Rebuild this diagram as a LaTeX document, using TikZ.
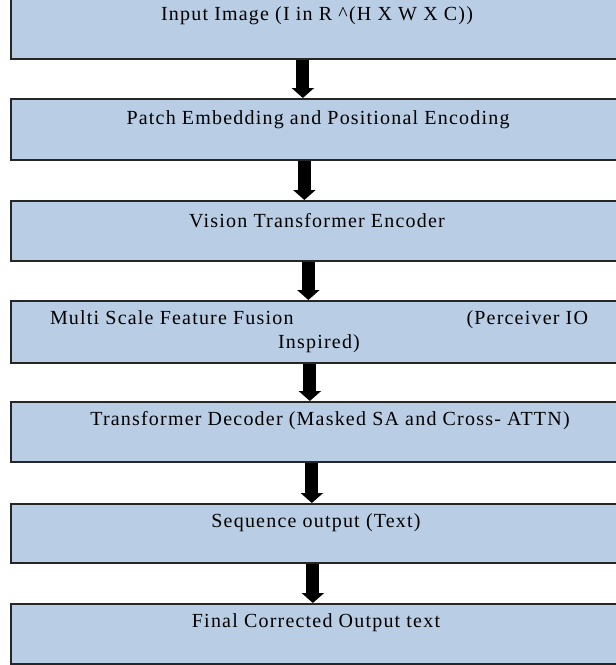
\documentclass[tikz,border=0pt]{standalone}
\usepackage{fontspec}
\setmainfont{Liberation Serif}[LetterSpace=6]
\usetikzlibrary{arrows.meta}
\definecolor{boxfill}{HTML}{B9CDE5}
\definecolor{boxline}{HTML}{262626}
\begin{document}
\begin{tikzpicture}[x=1pt,y=-1pt,
  box/.style={draw=boxline, line width=1.7pt, fill=boxfill, minimum width=615pt,
    minimum height=60pt, inner sep=0pt, anchor=north west},
  lbl/.style={font=\fontsize{20}{24}\selectfont, inner sep=0pt, align=center},
  flow/.style={line width=13pt, -{Triangle[width=22pt,length=10pt]}}]
\useasboundingbox (0,0) rectangle (616,665);
\clip (0,0) rectangle (616,665);
% boxes
\node[box] (b1) at (10,-2) {};
\node[box, minimum height=61pt] (b2) at (10,98) {};
\node[box] (b3) at (10,200) {};
\node[box, minimum height=62pt] (b4) at (10,300) {};
\node[box] (b5) at (10,401) {};
\node[box, minimum height=59pt] (b6) at (10,503) {};
\node[box] (b7) at (10,603) {};
% texts
\node[lbl] (t1) at (317,16) {Input Image (I in R \textasciicircum(H X W X C))};
\node[lbl] (t2) at (318,120) {Patch Embedding and Positional Encoding};
\node[lbl] (t3) at (317,221) {Vision Transformer Encoder};
\node[lbl] (t4) at (319,332) {\makebox[538pt]{Multi Scale Feature Fusion\hfill(Perceiver IO}\\Inspired)};
\node[lbl] (t5) at (330,421) {Transformer Decoder (Masked SA and Cross- ATTN)};
\node[lbl] (t6) at (316,523) {Sequence output (Text)};
\node[lbl] (t7) at (316,623) {Final Corrected Output text};
% arrows
\draw[flow] ([xshift=-15.5pt]b1.south) -- ([xshift=-15.5pt]b2.north);
\draw[flow] ([xshift=-14pt]b2.south) -- ([xshift=-14pt]b3.north);
\draw[flow] ([xshift=-10pt]b3.south) -- ([xshift=-10pt]b4.north);
\draw[flow] ([xshift=-8.5pt]b4.south) -- ([xshift=-8.5pt]b5.north);
\draw[flow] ([xshift=-6.5pt]b5.south) -- ([xshift=-6.5pt]b6.north);
\draw[flow] ([xshift=-5.5pt]b6.south) -- ([xshift=-5.5pt]b7.north);
\end{tikzpicture}
\end{document}
